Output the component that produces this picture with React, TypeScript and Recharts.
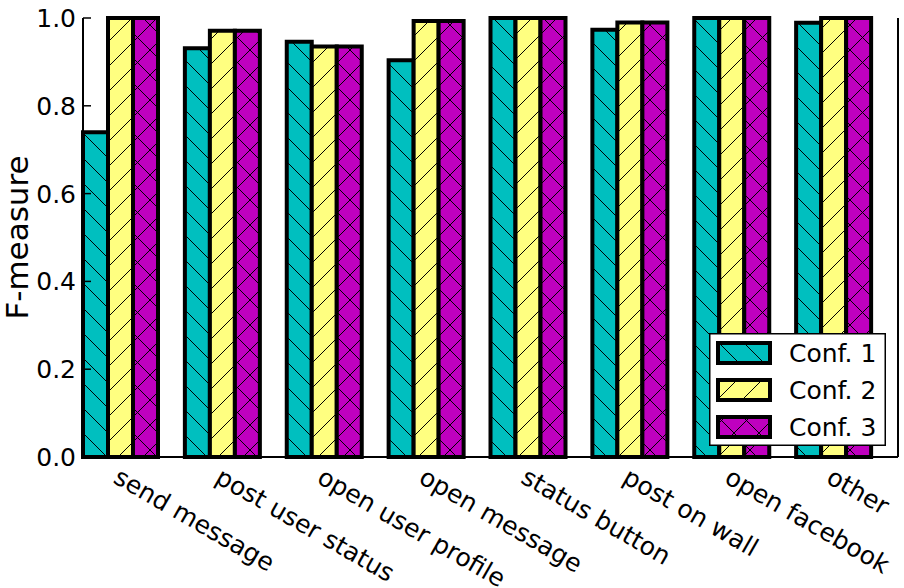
import React from 'react';
import { BarChart, Bar, XAxis, YAxis, Legend } from 'recharts';

const categories = [
  'send message',
  'post user status',
  'open user profile',
  'open message',
  'status button',
  'post on wall',
  'open facebook',
  'other',
];
const conf1 = [0.74, 0.931, 0.946, 0.904, 1.0, 0.973, 1.0, 0.989];
const conf2 = [1.0, 0.971, 0.935, 0.993, 1.0, 0.99, 1.0, 1.0];
const conf3 = [1.0, 0.971, 0.935, 0.993, 1.0, 0.99, 1.0, 1.0];
const yTicks = [0, 0.2, 0.4, 0.6, 0.8, 1.0];
const seriesNames = ['Conf. 1', 'Conf. 2', 'Conf. 3'];
const seriesKeys = ['c1', 'c2', 'c3'];
const colors = ['#00BFBF', '#FFFF80', '#BF00BF'];

const data = categories.map((name, i) => ({
  name,
  c1: conf1[i],
  c2: conf2[i],
  c3: conf3[i],
}));

const FONT = 'DejaVu Sans, sans-serif';
const H = 25;

const back = `M0,0 L${H},${H} M${-H},0 L0,${H} M${H},0 L${2 * H},${H}`;
const fwd = `M0,${H} L${H},0 M${-H},${H} L0,0 M${H},${H} L${2 * H},0`;
const hatchPaths = [back, fwd, back + ' ' + fwd];

const Defs = () => (
  <svg width={0} height={0} style={{ position: 'absolute' }}>
    <defs>
      {colors.map((c, i) => (
        <pattern key={i} id={`hatch${i}`} patternUnits="userSpaceOnUse" width={H} height={H}>
          <rect width={H} height={H} fill={c} />
          <path d={hatchPaths[i]} stroke="#000" strokeWidth={1} fill="none" shapeRendering="crispEdges" />
        </pattern>
      ))}
    </defs>
  </svg>
);

const XTick = (props: any) => {
  const { x, y, payload } = props;
  const tx = x - 22;
  const ty = y + 25;
  return (
    <text
      x={tx}
      y={ty}
      transform={`rotate(30 ${tx} ${ty})`}
      textAnchor="start"
      fontSize={25}
      fontFamily={FONT}
      fill="#000"
    >
      {payload.value}
    </text>
  );
};

const YTickL = (props: any) => {
  const { x, y, payload } = props;
  return (
    <g>
      <line x1={x} x2={x + 8} y1={y} y2={y} stroke="#000" strokeWidth={1.5} />
      <text x={x - 7} y={y} dy="0.36em" textAnchor="end" fontSize={25} fontFamily={FONT} fill="#000">
        {Number(payload.value).toFixed(1)}
      </text>
    </g>
  );
};

const YTickR = (props: any) => {
  const { x, y } = props;
  return <line x1={x} x2={x - 8} y1={y} y2={y} stroke="#000" strokeWidth={1.5} />;
};

const YLabel = (props: any) => {
  const { viewBox } = props;
  const cy = viewBox.y + viewBox.height / 2;
  const cx = 28;
  return (
    <text
      x={cx}
      y={cy}
      transform={`rotate(-90 ${cx} ${cy})`}
      textAnchor="middle"
      fontSize={31}
      fontFamily={FONT}
      fill="#000"
    >
      F-measure
    </text>
  );
};

const LegendBox = () => (
  <svg width={177} height={113} style={{ display: 'block' }}>
    <rect x={0.75} y={0.75} width={175.5} height={111.5} fill="#fff" stroke="#000" strokeWidth={1.5} />
    {seriesNames.map((n, i) => (
      <g key={n}>
        <rect x={9} y={10 + i * 37} width={52} height={20} fill={`url(#hatch${i})`} stroke="#000" strokeWidth={4} />
        <text x={80} y={20 + i * 37} dy="0.36em" fontSize={25} fontFamily={FONT} fill="#000">
          {n}
        </text>
      </g>
    ))}
  </svg>
);

export default function App() {
  return (
    <div style={{ position: 'absolute', left: 0, top: 0, width: 904, height: 588, background: '#fff' }}>
      <Defs />
      <BarChart
        width={904}
        height={588}
        data={data}
        margin={{ top: 18, right: 0, bottom: 0, left: 0 }}
        barCategoryGap={0}
        barGap={0}
      >
        <XAxis
          dataKey="name"
          xAxisId="bottom"
          height={131}
          tickLine={false}
          tickSize={0}
          tickMargin={0}
          interval={0}
          axisLine={{ stroke: '#000', strokeWidth: 2 }}
          tick={<XTick />}
        />
        <XAxis
          dataKey="name"
          xAxisId="top"
          orientation="top"
          height={0}
          tick={false}
          tickLine={false}
          axisLine={{ stroke: '#000', strokeWidth: 2 }}
        />
        <YAxis
          yAxisId="left"
          width={83}
          domain={[0, 1]}
          ticks={yTicks}
          tickLine={false}
          tickSize={0}
          tickMargin={0}
          interval={0}
          axisLine={{ stroke: '#000', strokeWidth: 2 }}
          tick={<YTickL />}
          label={<YLabel />}
        />
        <YAxis
          yAxisId="right"
          orientation="right"
          width={6}
          domain={[0, 1]}
          ticks={yTicks}
          tickLine={false}
          tickSize={0}
          tickMargin={0}
          interval={0}
          axisLine={{ stroke: '#000', strokeWidth: 2 }}
          tick={<YTickR />}
        />
        {seriesKeys.map((k, i) => (
          <Bar
            key={k}
            dataKey={k}
            name={seriesNames[i]}
            xAxisId="bottom"
            yAxisId="left"
            fill={`url(#hatch${i})`}
            stroke="#000"
            strokeWidth={4}
            isAnimationActive={false}
          />
        ))}
        <Bar dataKey="spacer" xAxisId="bottom" yAxisId="left" legendType="none" isAnimationActive={false} />
        <Legend
          layout="vertical"
          align="center"
          verticalAlign="middle"
          content={<LegendBox />}
          wrapperStyle={{ left: 709, top: 333, width: 177, height: 113, right: 'auto', bottom: 'auto' }}
        />
      </BarChart>
    </div>
  );
}
